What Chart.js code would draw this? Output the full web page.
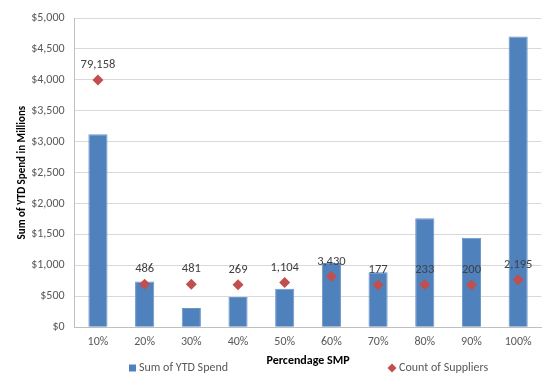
<!DOCTYPE html>
<html>
<head>
<meta charset="utf-8">
<script src="https://cdn.jsdelivr.net/npm/chart.js@4/dist/chart.umd.min.js"></script>
<style>
  html, body { margin: 0; padding: 0; background: #ffffff; }
  #wrap { position: relative; width: 547px; height: 373px; }
</style>
</head>
<body>
<div id="wrap"><canvas id="chart" width="547" height="373"></canvas></div>
<script>
// Spend buckets by percentage SMP
const categories = ['10%', '20%', '30%', '40%', '50%', '60%', '70%', '80%', '90%', '100%'];
// Sum of YTD spend, $ millions
const spendMillions = [3120, 740, 310, 490, 620, 1040, 890, 1760, 1445, 4700];
// Count of suppliers per bucket
const supplierCounts = [79158, 486, 481, 269, 1104, 3430, 177, 233, 200, 2195];
// Primary axis tick range
const spendTicks = { min: 0, max: 5000, step: 500 };

const FONT = "Carlito, Lato, 'Open Sans', sans-serif";
const TEXT = '#595959';

// Number labels above the supplier markers
const countLabels = {
  id: 'countLabels',
  afterDatasetsDraw(chart) {
    const meta = chart.getDatasetMeta(1);
    const ctx = chart.ctx;
    ctx.save();
    ctx.font = '12.5px ' + FONT;
    ctx.fillStyle = '#404040';
    ctx.textAlign = 'center';
    ctx.textBaseline = 'middle';
    meta.data.forEach((pt, i) => {
      ctx.fillText(supplierCounts[i].toLocaleString('en-US'), pt.x, pt.y - 15);
    });
    ctx.restore();
  }
};

// Legend split to both sides of the x-axis title, on the bottom line
const splitLegend = {
  id: 'splitLegend',
  afterDraw(chart) {
    const ctx = chart.ctx;
    const y = 368;
    const ds = chart.data.datasets;
    ctx.save();
    ctx.font = '12px ' + FONT;
    ctx.textBaseline = 'middle';
    ctx.textAlign = 'left';
    // bar series swatch
    ctx.fillStyle = ds[0].backgroundColor;
    ctx.fillRect(129, y - 3.5, 7, 7);
    ctx.fillStyle = TEXT;
    ctx.fillText(ds[0].label, 139, y);
    // marker series swatch
    ctx.fillStyle = ds[1].backgroundColor;
    ctx.beginPath();
    ctx.moveTo(392, y - 4.5);
    ctx.lineTo(396.5, y);
    ctx.lineTo(392, y + 4.5);
    ctx.lineTo(387.5, y);
    ctx.closePath();
    ctx.fill();
    ctx.fillStyle = TEXT;
    ctx.fillText(ds[1].label, 399, y);
    ctx.restore();
  }
};

new Chart(document.getElementById('chart'), {
  data: {
    labels: categories,
    datasets: [
      {
        type: 'bar',
        label: 'Sum of YTD Spend',
        data: spendMillions,
        yAxisID: 'y',
        backgroundColor: '#4f81bd',
        borderColor: '#6a95c9',
        borderWidth: 1,
        categoryPercentage: 1,
        barPercentage: 0.41,
        order: 2
      },
      {
        type: 'line',
        label: 'Count of Suppliers',
        data: supplierCounts,
        yAxisID: 'y2',
        showLine: false,
        pointStyle: 'rectRot',
        pointRadius: 5.5,
        pointHoverRadius: 5.5,
        backgroundColor: '#c0504d',
        borderColor: '#c0504d',
        borderWidth: 0,
        order: 1
      }
    ]
  },
  options: {
    responsive: false,
    animation: false,
    layout: { padding: { left: 16, right: 1, top: 18, bottom: 5 } },
    plugins: {
      tooltip: { enabled: false },
      legend: { display: false }
    },
    scales: {
      x: {
        offset: true,
        grid: { display: false, drawTicks: false },
        border: { color: '#bfbfbf' },
        ticks: { font: { family: FONT, size: 12 }, color: TEXT, padding: 8 },
        title: {
          display: true,
          text: 'Percendage SMP',
          font: { family: FONT, size: 12, weight: 'bold' },
          color: '#000000',
          padding: { top: -4, bottom: 0 }
        }
      },
      y: {
        min: spendTicks.min,
        max: spendTicks.max,
        ticks: {
          stepSize: spendTicks.step,
          font: { family: FONT, size: 12 },
          color: TEXT,
          padding: 10,
          callback: v => '$' + v.toLocaleString('en-US')
        },
        grid: { color: '#d9d9d9', drawTicks: false },
        border: { color: '#bfbfbf' },
        title: {
          display: true,
          text: 'Sum of YTD Spend in Millions',
          font: { family: FONT, size: 11, weight: 'bold' },
          color: '#000000',
          padding: { top: 0, bottom: -8 }
        }
      },
      y2: {
        display: false,
        min: -16100,
        max: 103000
      }
    }
  },
  plugins: [countLabels, splitLegend]
});
</script>
</body>
</html>
